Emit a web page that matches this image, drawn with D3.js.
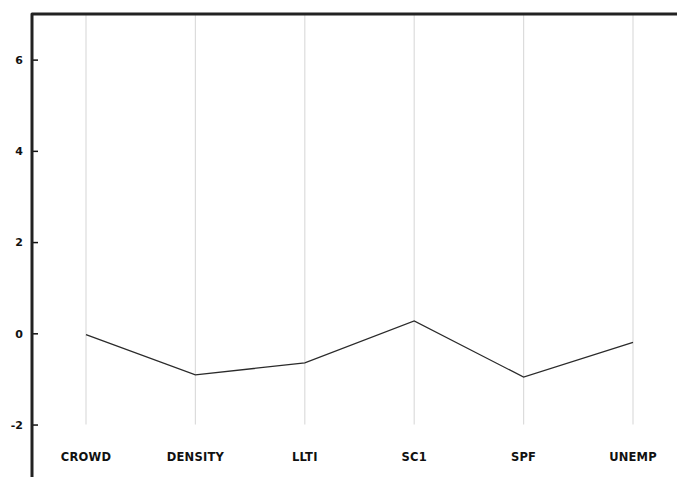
<!DOCTYPE html>
<html>
<head>
<meta charset="utf-8">
<script src="https://cdn.jsdelivr.net/npm/d3@7"></script>
<style>
  html, body { margin: 0; padding: 0; background: #fff; }
  svg { display: block; }
  text { font-family: "DejaVu Sans", sans-serif; font-weight: bold; fill: #111; }
</style>
</head>
<body>
<svg id="chart" width="677" height="477"></svg>
<script>
// Variables shown along the horizontal axis
const categories = ["CROWD", "DENSITY", "LLTI", "SC1", "SPF", "UNEMP"];
// Profile values for each variable
const values = [-0.03, -0.91, -0.65, 0.27, -0.96, -0.20];
// Labelled ticks on the vertical axis
const yTicks = [-2, 0, 2, 4, 6];

const W = 677, H = 477;
const axisX = 32, topY = 14;

const svg = d3.select("#chart");

const y = d3.scaleLinear().domain([-3.15, 7]).range([H, topY]);
const x = d3.scalePoint().domain(categories).range([86, 633]);

// Light vertical guides for each variable
svg.append("g")
  .selectAll("line")
  .data(categories)
  .join("line")
  .attr("x1", d => x(d)).attr("x2", d => x(d))
  .attr("y1", topY).attr("y2", y(-2))
  .attr("stroke", "#dcdcdc")
  .attr("stroke-width", 1.2);

// Profile line
const line = d3.line()
  .x((d, i) => x(categories[i]))
  .y(d => y(d));

svg.append("path")
  .datum(values)
  .attr("d", line)
  .attr("fill", "none")
  .attr("stroke", "#2a2a2a")
  .attr("stroke-width", 1.3);

// Left axis with inward ticks; plain hyphen for negatives
const yAxis = d3.axisRight(y)
  .tickValues(yTicks)
  .tickSize(6)
  .tickFormat(d => (d < 0 ? "-" : "") + Math.abs(d));

const gy = svg.append("g")
  .attr("transform", `translate(${axisX},0)`)
  .call(yAxis);
gy.select(".domain").remove();
gy.selectAll(".tick line").attr("stroke", "#111").attr("stroke-width", 1.5);
gy.selectAll(".tick text")
  .attr("x", -9)
  .attr("text-anchor", "end")
  .attr("dy", "0.35em")
  .style("font-size", "11px")
  .style("font-family", "'DejaVu Sans', sans-serif")
  .style("font-weight", "bold")
  .attr("fill", "#111");

// Frame: left axis and top border
svg.append("path")
  .attr("d", `M${axisX},${H} L${axisX},${topY} L${W},${topY}`)
  .attr("fill", "none")
  .attr("stroke", "#222")
  .attr("stroke-width", 3)
  .attr("stroke-linejoin", "round");

// Category labels
svg.append("g")
  .selectAll("text")
  .data(categories)
  .join("text")
  .attr("x", d => x(d))
  .attr("y", 461)
  .attr("text-anchor", "middle")
  .style("font-size", "11.5px")
  .style("letter-spacing", "0.2px")
  .text(d => d);
</script>
</body>
</html>
